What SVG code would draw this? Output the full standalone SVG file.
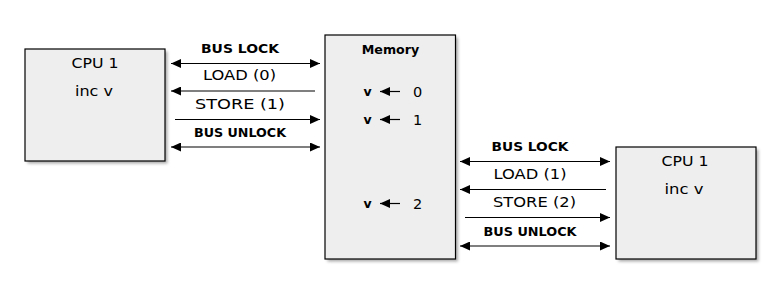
<svg xmlns="http://www.w3.org/2000/svg" width="780" height="294" viewBox="0 0 780 294">
<defs>
<style>
.box{fill:#eeeeee;stroke:#000;stroke-width:1.2}
.sh{fill:#666;opacity:0.55;filter:url(#blur)}
.t{font-family:"DejaVu Sans","Liberation Sans",sans-serif;fill:#000;text-anchor:middle}
.c{font-size:14.5px}
.r{font-size:13.5px}
.b{font-size:12.5px;font-weight:bold}
.ln{stroke:#000;stroke-width:1.2;fill:none}
</style>
<filter id="blur" x="-10%" y="-10%" width="130%" height="130%"><feGaussianBlur stdDeviation="1.5"/></filter>
<marker id="ah" viewBox="0 0 10 9" refX="10" refY="4.5" markerWidth="10" markerHeight="9" markerUnits="userSpaceOnUse" orient="auto-start-reverse">
<path d="M0,0 L10,4.5 L0,9 z" fill="#000"/>
</marker>
</defs>
<g id="cpu-left">
<rect class="sh" x="27.5" y="51.5" width="140" height="112"/>
<rect class="box" x="25" y="49" width="140" height="112"/>
<text class="t c" x="95" y="68" textLength="47" lengthAdjust="spacingAndGlyphs">CPU 1</text>
<text class="t c" x="94" y="95.5" textLength="38" lengthAdjust="spacingAndGlyphs">inc v</text>
</g>
<g id="memory">
<rect class="sh" x="327.5" y="37.5" width="130.5" height="224"/>
<rect class="box" x="325" y="35" width="130.5" height="224"/>
<text class="t b" x="390.5" y="54" font-size="12.5" textLength="57.5" lengthAdjust="spacingAndGlyphs">Memory</text>
<text class="t b" x="367.5" y="96" font-size="15">v</text>
<text class="t c" x="417.5" y="96.5" font-size="15">0</text>
<text class="t b" x="367.5" y="124" font-size="15">v</text>
<text class="t c" x="417.5" y="124.5" font-size="15">1</text>
<text class="t b" x="367.5" y="208" font-size="15">v</text>
<text class="t c" x="417.5" y="208.5" font-size="15">2</text>
<path class="ln" d="M400,91.5 H380" marker-end="url(#ah)"/>
<path class="ln" d="M400,119.5 H380" marker-end="url(#ah)"/>
<path class="ln" d="M400,203.5 H380" marker-end="url(#ah)"/>
</g>
<g id="cpu-right">
<rect class="sh" x="618.5" y="149.5" width="140" height="112"/>
<rect class="box" x="616" y="147" width="140" height="112"/>
<text class="t c" x="685" y="166" textLength="47" lengthAdjust="spacingAndGlyphs">CPU 1</text>
<text class="t c" x="684" y="194" textLength="39" lengthAdjust="spacingAndGlyphs">inc v</text>
</g>
<g id="connectors">
<path class="ln" d="M171,63.5 H320" marker-start="url(#ah)" marker-end="url(#ah)"/>
<path class="ln" d="M315,91 H171" marker-end="url(#ah)"/>
<path class="ln" d="M175,119.5 H320" marker-end="url(#ah)"/>
<path class="ln" d="M171,147 H320" marker-start="url(#ah)" marker-end="url(#ah)"/>
<path class="ln" d="M460,161.5 H610" marker-start="url(#ah)" marker-end="url(#ah)"/>
<path class="ln" d="M606,189.5 H460" marker-end="url(#ah)"/>
<path class="ln" d="M465,217.5 H610" marker-end="url(#ah)"/>
<path class="ln" d="M460,246 H610" marker-start="url(#ah)" marker-end="url(#ah)"/>
</g>
<g id="labels">
<text class="t b" x="240" y="53" textLength="78" lengthAdjust="spacingAndGlyphs">BUS LOCK</text>
<text class="t r" x="239.5" y="80" textLength="73" lengthAdjust="spacingAndGlyphs">LOAD (0)</text>
<text class="t r" x="240" y="108.5" textLength="90" lengthAdjust="spacingAndGlyphs">STORE (1)</text>
<text class="t b" x="240" y="136.5" textLength="92" lengthAdjust="spacingAndGlyphs">BUS UNLOCK</text>
<text class="t b" x="530" y="151" textLength="77" lengthAdjust="spacingAndGlyphs">BUS LOCK</text>
<text class="t r" x="530" y="179" textLength="73" lengthAdjust="spacingAndGlyphs">LOAD (1)</text>
<text class="t r" x="534.5" y="207" textLength="83" lengthAdjust="spacingAndGlyphs">STORE (2)</text>
<text class="t b" x="530" y="235.5" textLength="93" lengthAdjust="spacingAndGlyphs">BUS UNLOCK</text>
</g>
</svg>
